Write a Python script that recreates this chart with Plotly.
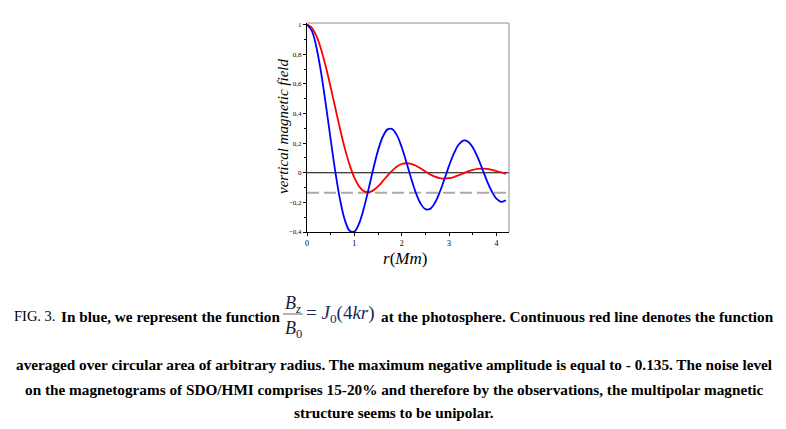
import plotly.graph_objects as go

# radius r (Mm)
r = [0.0, 0.1, 0.2, 0.3, 0.4, 0.5, 0.6, 0.7, 0.8, 0.9,
     1.0, 1.1, 1.2, 1.3, 1.4, 1.5, 1.6, 1.7, 1.8, 1.9,
     2.0, 2.1, 2.2, 2.3, 2.4, 2.5, 2.6, 2.7, 2.8, 2.9,
     3.0, 3.1, 3.2, 3.3, 3.4, 3.5, 3.6, 3.7, 3.8, 3.9,
     4.0, 4.1, 4.2]

# blue: Bz/B0 = J0(4kr)
blue_vals = [1.000, 0.960, 0.846, 0.671, 0.455, 0.224, 0.003, -0.185, -0.320, -0.392,
             -0.397, -0.342, -0.240, -0.110, 0.027, 0.151, 0.243, 0.293, 0.295, 0.252,
             0.172, 0.069, -0.039, -0.137, -0.209, -0.246, -0.244, -0.203, -0.133, -0.045,
             0.048, 0.129, 0.189, 0.217, 0.210, 0.171, 0.107, 0.027, -0.055, -0.125,
             -0.175, -0.196, -0.186]

# red: area-averaged function
red_vals = [1.000, 0.980, 0.922, 0.831, 0.712, 0.577, 0.434, 0.293, 0.163, 0.053,
            -0.033, -0.092, -0.124, -0.132, -0.119, -0.092, -0.057, -0.019, 0.015, 0.042,
            0.059, 0.064, 0.060, 0.047, 0.029, 0.009, -0.011, -0.026, -0.036, -0.040,
            -0.037, -0.029, -0.017, -0.004, 0.009, 0.019, 0.026, 0.028, 0.026, 0.020,
            0.011, 0.002, -0.008]

noise_level = -0.135
x_range = [0, 4.265]
y_range = [-0.4, 1.011]
x_ticks = [0, 1, 2, 3, 4]
y_ticks = [-0.4, -0.2, 0, 0.2, 0.4, 0.6, 0.8, 1]

OFF = 8  # page body margin
W, H = 786 - 2 * OFF, 429 - 2 * OFF
# plot area in window pixels: x 307..509, y 23..232
L, T = 307 - OFF, 23 - OFF
R, B = W - (509 - OFF), H - (232 - OFF)
PW, PH = W - L - R, H - T - B


def px(x):
    return (x - OFF - L) / PW


def py(y):
    return (H - B - (y - OFF)) / PH


fig = go.Figure()
fig.add_trace(go.Scatter(x=[x_range[0], x_range[1]], y=[0, 0], mode="lines",
                         line=dict(color="black", width=1), hoverinfo="skip", showlegend=False))
fig.add_trace(go.Scatter(x=[x_range[0], x_range[1]], y=[noise_level, noise_level], mode="lines",
                         line=dict(color="#aaaaaa", width=2.2, dash="12px,5px"),
                         hoverinfo="skip", showlegend=False))
fig.add_trace(go.Scatter(x=r, y=red_vals, mode="lines", line=dict(color="#ff0000", width=1.8, shape="spline"),
                         showlegend=False))
fig.add_trace(go.Scatter(x=r, y=blue_vals, mode="lines", line=dict(color="#0000ff", width=1.8, shape="spline"),
                         showlegend=False))

serif = "Liberation Serif"
fig.update_layout(
    width=W, height=H,
    margin=dict(l=L, r=R, t=T, b=B, pad=0),
    paper_bgcolor="white", plot_bgcolor="white",
    separators=", ",
    font=dict(family=serif, color="black"),
    xaxis=dict(range=x_range, showgrid=False, zeroline=False, showline=True, linecolor="black",
               linewidth=1, ticks="outside", ticklen=3, tickwidth=1, tickcolor="black",
               tickvals=x_ticks, tickfont=dict(size=8, family=serif),
               minor=dict(tickvals=[0.5, 1.5, 2.5, 3.5], ticks="outside", ticklen=2, tickcolor="black")),
    yaxis=dict(range=y_range, showgrid=False, zeroline=False, showline=True, linecolor="black",
               linewidth=1, ticks="outside", ticklen=3, tickwidth=1, tickcolor="black",
               tickvals=y_ticks, tickfont=dict(size=7, family=serif),
               minor=dict(dtick=0.1, ticks="outside", ticklen=2, tickcolor="black")),
)

# gray frame (top/right)
fig.add_shape(type="line", xref="paper", yref="paper", x0=0, x1=1, y0=1, y1=1,
              line=dict(color="#8c8c8c", width=1))
fig.add_shape(type="line", xref="paper", yref="paper", x0=1, x1=1, y0=0, y1=1,
              line=dict(color="#8c8c8c", width=1))

# axis titles
fig.add_annotation(x=px(283), y=py(127), xref="paper", yref="paper", xanchor="center", yanchor="middle",
                   text="<i>vertical magnetic field</i>", textangle=-90, showarrow=False,
                   font=dict(family=serif, size=15, color="black"))
fig.add_annotation(x=px(405), y=py(258), xref="paper", yref="paper", xanchor="center", yanchor="middle",
                   text="<i>r</i>(<i>Mm</i>)", showarrow=False, borderpad=0,
                   font=dict(family=serif, size=17, color="black"))

cap = dict(family=serif, size=15.25, color="black")
# caption line 1 pieces
fig.add_annotation(x=px(13), y=py(316), xref="paper", yref="paper", xanchor="left", yanchor="middle",
                   text="FIG. 3.", showarrow=False, borderpad=0, font=dict(family=serif, size=14.5, color="black"))
fig.add_annotation(x=px(281), y=py(316), xref="paper", yref="paper", xanchor="right", yanchor="middle",
                   text="<b>In blue, we represent the function</b>", showarrow=False, borderpad=0, font=cap)
fig.add_annotation(x=px(293), y=py(304), xref="paper", yref="paper", xanchor="center", yanchor="middle",
                   text="<i>B</i><sub><i>z</i></sub>", showarrow=False, borderpad=0,
                   font=dict(family=serif, size=18, color="#1a1a3a"))
fig.add_shape(type="line", xref="paper", yref="paper", x0=px(283), x1=px(303), y0=py(314), y1=py(314),
              line=dict(color="#999999", width=1.5))
fig.add_annotation(x=px(293), y=py(329), xref="paper", yref="paper", xanchor="center", yanchor="middle",
                   text="<i>B</i><sub>0</sub>", showarrow=False, borderpad=0,
                   font=dict(family=serif, size=18, color="#1a1a3a"))
fig.add_annotation(x=px(305), y=py(314), xref="paper", yref="paper", xanchor="left", yanchor="middle",
                   text="= <i>J</i><sub>0</sub>(4<i>kr</i>)", showarrow=False, borderpad=0,
                   font=dict(family=serif, size=19, color="#1a2a5a"))
fig.add_annotation(x=px(380), y=py(316), xref="paper", yref="paper", xanchor="left", yanchor="middle",
                   text="<b>at the photosphere. Continuous red line denotes the function</b>",
                   showarrow=False, borderpad=0, font=cap)

caption_lines = [
    ("averaged over circular area of arbitrary radius. The maximum negative amplitude is equal to - 0.135. The noise level", 364),
    ("on the magnetograms of SDO/HMI comprises 15-20% and therefore by the observations, the multipolar magnetic", 389),
    ("structure seems to be unipolar.", 412),
]
for txt, yy in caption_lines:
    fig.add_annotation(x=px(394), y=py(yy), xref="paper", yref="paper", xanchor="center", yanchor="middle",
                       text="<b>" + txt + "</b>", showarrow=False, borderpad=0, font=cap)

fig.write_html("out.html")
